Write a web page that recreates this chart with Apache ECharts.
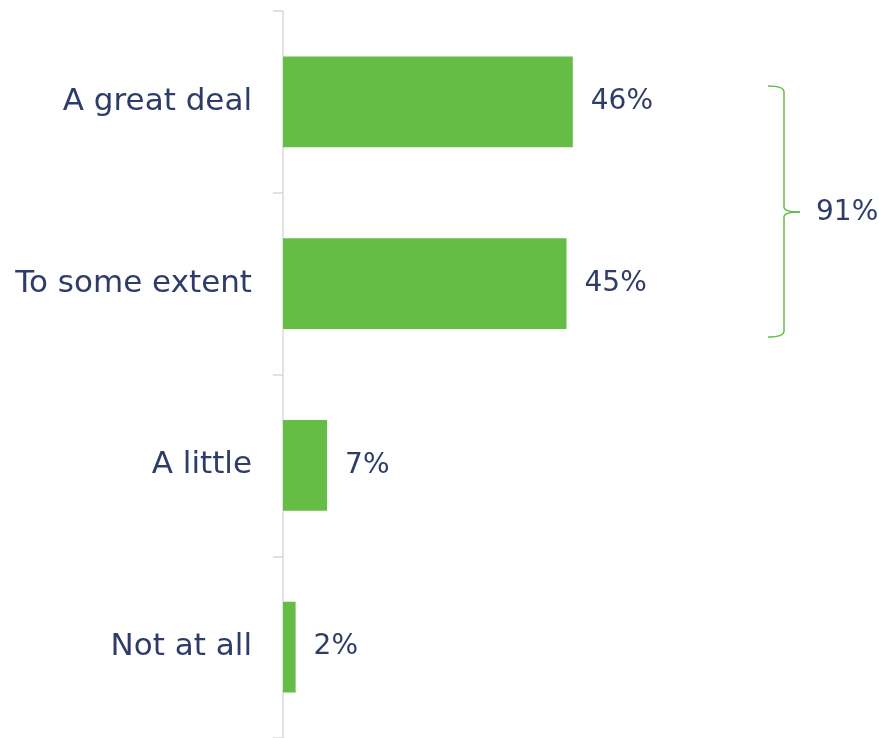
<!DOCTYPE html>
<html>
<head>
<meta charset="utf-8">
<style>
  html, body { margin: 0; padding: 0; background: #ffffff; }
  #chart { width: 879px; height: 738px; }
</style>
<script src="https://cdn.jsdelivr.net/npm/echarts@6/dist/echarts.min.js"></script>
</head>
<body>
<div id="chart"></div>
<script>
// Survey answers, top to bottom
const categories = ['A great deal', 'To some extent', 'A little', 'Not at all'];
const shares = [46, 45, 7, 2];
// Answers grouped by the brace on the right
const bracedCount = 2;

const GREEN = '#65BD45';
const NAVY = '#2E3C6A';
const FONT = '"DejaVu Sans", sans-serif';

const chart = echarts.init(document.getElementById('chart'), null, { renderer: 'canvas' });

chart.setOption({
  animation: false,
  backgroundColor: '#ffffff',
  grid: { left: 283, right: 92, top: 11, bottom: -1, containLabel: false },
  xAxis: {
    type: 'value', min: 0, max: 80,
    show: false
  },
  yAxis: {
    type: 'category',
    data: categories,
    inverse: true,
    axisLine: { show: true, lineStyle: { color: '#D9D9D9', width: 1.5 } },
    axisTick: { show: true, length: 10, lineStyle: { color: '#D9D9D9', width: 1.5 } },
    axisLabel: { color: NAVY, fontFamily: FONT, fontSize: 31, margin: 31 },
    splitLine: { show: false }
  },
  series: [{
    type: 'bar',
    data: shares,
    barWidth: '50%',
    itemStyle: { color: GREEN },
    label: {
      show: true, position: 'right', distance: 18,
      color: NAVY, fontFamily: FONT, fontSize: 28,
      formatter: p => p.value + '%'
    }
  }]
});

// Curly brace grouping the first answers, with their combined share
const total = shares.slice(0, bracedCount).reduce((a, b) => a + b, 0);
const x0 = 768, x1 = 784, tip = 800;
const yTop = 86, yBot = 337, yMid = 212;
const braceStyle = { stroke: GREEN, lineWidth: 1.5, fill: null };

chart.setOption({
  graphic: [
    { type: 'bezierCurve', shape: { x1: x0, y1: yTop, cpx1: x1, cpy1: yTop, x2: x1, y2: yTop + 6 }, style: braceStyle },
    { type: 'line', shape: { x1: x1, y1: yTop + 6, x2: x1, y2: yMid - 5 }, style: braceStyle },
    { type: 'bezierCurve', shape: { x1: x1, y1: yMid - 5, cpx1: x1, cpy1: yMid, x2: tip, y2: yMid }, style: braceStyle },
    { type: 'bezierCurve', shape: { x1: tip, y1: yMid, cpx1: x1, cpy1: yMid, x2: x1, y2: yMid + 5 }, style: braceStyle },
    { type: 'line', shape: { x1: x1, y1: yMid + 5, x2: x1, y2: yBot - 6 }, style: braceStyle },
    { type: 'bezierCurve', shape: { x1: x1, y1: yBot - 6, cpx1: x1, cpy1: yBot, x2: x0, y2: yBot }, style: braceStyle },
    {
      type: 'text',
      x: 816, y: yMid + 1,
      style: {
        text: total + '%',
        fill: NAVY, font: '28px ' + FONT,
        verticalAlign: 'middle'
      }
    }
  ]
});
</script>
</body>
</html>
